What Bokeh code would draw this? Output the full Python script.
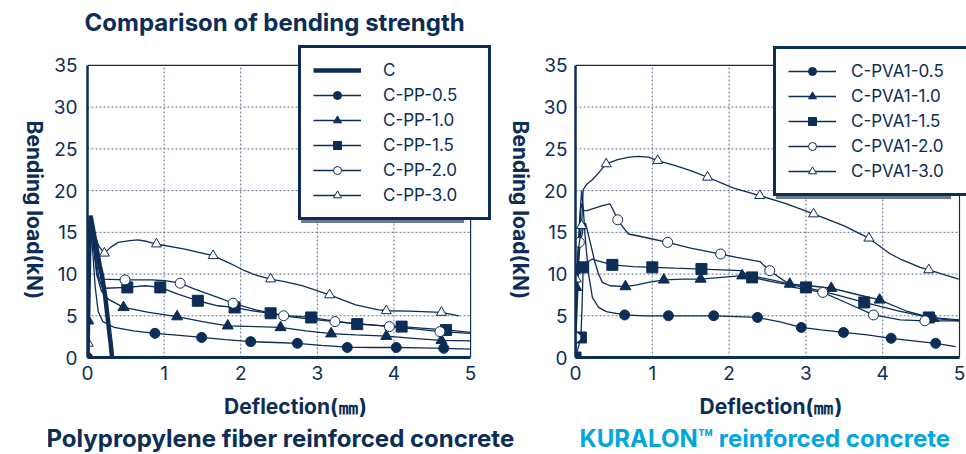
import math
from bokeh.plotting import figure
from bokeh.layouts import row
from bokeh.models import Legend, LegendItem, FixedTicker, Range1d, Title
from bokeh.embed import file_html
from bokeh.resources import INLINE

NAVY = "#0c2d56"
CYAN = "#00a6e2"
GRID = "#5c7090"
SHADOW = "#6b7a8f"
FONT = "Inter"

# ---------------- data ----------------
x_ticks = [0, 1, 2, 3, 4, 5]
y_ticks = [0, 5, 10, 15, 20, 25, 30, 35]

main_title = "Comparison of bending strength"
x_label = "Deflection(㎜)"
y_label = "Bending load(kN)"
left_subtitle = "Polypropylene fiber reinforced concrete"
right_subtitle = "KURALON™ reinforced concrete"

# Polypropylene fiber reinforced concrete
c_x = [0, 0.01, 0.02, 0.04, 0.08, 0.12, 0.16, 0.19, 0.23, 0.26, 0.285, 0.305, 0.315, 0.32]
c_y = [0, 6, 12, 17.0, 15.0, 13.0, 11.0, 9.8, 7.4, 5.0, 3.0, 1.5, 0.5, 0]

pp05_x = [0, 0.01, 0.02, 0.04, 0.07, 0.1, 0.14, 0.2, 0.35, 0.6, 0.88, 1.2, 1.49, 1.8, 2.13, 2.45, 2.74, 3.05, 3.39, 3.7, 4.03, 4.35, 4.65, 5.0]
pp05_y = [0, 5, 11, 16.0, 12.5, 8.5, 5.5, 4.3, 3.6, 3.2, 2.9, 2.65, 2.4, 2.15, 1.9, 1.8, 1.7, 1.45, 1.25, 1.2, 1.2, 1.15, 1.1, 1.0]
pp05_mx = [0, 0.88, 1.49, 2.13, 2.74, 3.39, 4.03, 4.65]
pp05_my = [0, 2.9, 2.4, 1.9, 1.7, 1.2, 1.2, 1.1]

pp10_x = [0, 0.01, 0.02, 0.03, 0.05, 0.08, 0.12, 0.18, 0.27, 0.47, 0.8, 1.17, 1.5, 1.83, 2.2, 2.52, 2.85, 3.18, 3.5, 3.9, 4.25, 4.62, 5.0]
pp10_y = [0, 4.4, 10, 15.5, 16, 13, 10, 8, 7.0, 6.0, 5.4, 4.9, 4.3, 3.8, 3.7, 3.6, 3.2, 2.85, 2.7, 2.55, 2.3, 2.05, 2.0]
pp10_mx = [0.01, 0.47, 1.17, 1.83, 2.52, 3.18, 3.9, 4.62]
pp10_my = [4.4, 6.0, 4.9, 3.8, 3.6, 2.85, 2.55, 2.05]

pp15_x = [0, 0.01, 0.02, 0.03, 0.06, 0.1, 0.15, 0.19, 0.23, 0.52, 0.75, 0.95, 1.18, 1.44, 1.7, 1.92, 2.15, 2.39, 2.65, 2.92, 3.2, 3.52, 3.8, 4.1, 4.4, 4.68, 5.0]
pp15_y = [0, 5, 11, 16, 15, 12.5, 9.5, 8.4, 8.3, 8.4, 8.6, 8.4, 7.6, 6.8, 6.2, 6.0, 5.6, 5.3, 5.0, 4.8, 4.4, 4.0, 3.85, 3.7, 3.5, 3.3, 3.0]
pp15_mx = [0.52, 0.95, 1.44, 1.92, 2.39, 2.92, 3.52, 4.1, 4.68]
pp15_my = [8.4, 8.4, 6.8, 6.0, 5.3, 4.8, 4.0, 3.7, 3.3]

pp20_x = [0, 0.01, 0.02, 0.04, 0.07, 0.1, 0.13, 0.2, 0.49, 0.84, 1.01, 1.21, 1.4, 1.7, 1.9, 2.2, 2.56, 2.9, 3.23, 3.6, 3.94, 4.3, 4.6, 5.0]
pp20_y = [0, 6, 12, 16.5, 15, 12, 9.6, 9.4, 9.3, 9.3, 9.2, 8.9, 8.2, 7.2, 6.5, 5.7, 5.0, 4.6, 4.3, 4.0, 3.7, 3.4, 3.1, 2.9]
pp20_mx = [0.49, 1.21, 1.9, 2.56, 3.23, 3.94, 4.6]
pp20_my = [9.3, 8.9, 6.5, 5.0, 4.3, 3.7, 3.1]

pp30_x = [0, 0.01, 0.02, 0.04, 0.07, 0.1, 0.15, 0.22, 0.3, 0.4, 0.55, 0.66, 0.78, 0.9, 1.27, 1.64, 1.88, 2.05, 2.22, 2.39, 2.57, 2.8, 3.16, 3.5, 3.8, 3.9, 4.2, 4.62, 4.85]
pp30_y = [0, 1.7, 8, 16, 15.5, 14.5, 13.3, 12.5, 13.2, 13.8, 14.0, 14.1, 13.9, 13.6, 13.0, 12.2, 11.2, 10.4, 9.8, 9.4, 9.1, 8.6, 7.5, 6.3, 5.7, 5.6, 5.55, 5.4, 5.0]
pp30_mx = [0.01, 0.22, 0.9, 1.64, 2.39, 3.16, 3.9, 4.62]
pp30_my = [1.7, 12.5, 13.6, 12.2, 9.4, 7.5, 5.6, 5.4]

# KURALON (PVA) reinforced concrete
pva05_x = [0, 0.01, 0.02, 0.05, 0.08, 0.1, 0.13, 0.17, 0.22, 0.3, 0.4, 0.64, 0.9, 1.21, 1.5, 1.8, 2.1, 2.37, 2.65, 2.94, 3.2, 3.49, 3.8, 4.11, 4.4, 4.69, 4.95]
pva05_y = [0, 5, 10.6, 16, 20, 18, 14, 10, 7.2, 6.0, 5.5, 5.1, 5.0, 5.0, 5.0, 5.0, 4.9, 4.8, 4.3, 3.6, 3.3, 3.0, 2.7, 2.3, 2.0, 1.7, 1.3]
pva05_mx = [0.02, 0.64, 1.21, 1.8, 2.37, 2.94, 3.49, 4.11, 4.69]
pva05_my = [10.6, 5.1, 5.0, 5.0, 4.8, 3.6, 3.0, 2.3, 1.7]

pva10_x = [0, 0.01, 0.03, 0.06, 0.1, 0.13, 0.16, 0.2, 0.25, 0.3, 0.35, 0.45, 0.65, 0.8, 0.95, 1.15, 1.4, 1.63, 1.9, 2.17, 2.4, 2.6, 2.79, 3.05, 3.33, 3.6, 3.96, 4.3, 4.66, 5.0]
pva10_y = [0, 8.4, 11, 13.5, 15.5, 16.1, 15.0, 13.5, 11.5, 10.0, 9.0, 8.6, 8.5, 8.7, 9.0, 9.3, 9.4, 9.4, 9.6, 9.8, 9.6, 9.2, 8.8, 8.6, 8.3, 7.7, 6.9, 5.6, 4.7, 4.4]
pva10_mx = [0.01, 0.65, 1.15, 1.63, 2.17, 2.79, 3.33, 3.96, 4.66]
pva10_my = [8.4, 8.5, 9.3, 9.4, 9.8, 8.8, 8.3, 6.9, 4.7]

pva15_x = [0, 0.03, 0.07, 0.085, 0.1, 0.15, 0.22, 0.28, 0.48, 0.75, 1.0, 1.3, 1.64, 1.9, 2.15, 2.3, 2.6, 3.0, 3.4, 3.76, 4.2, 4.6, 5.0]
pva15_y = [0, 1, 2.4, 6, 10.8, 11.4, 11.8, 11.6, 11.1, 10.9, 10.8, 10.7, 10.6, 10.5, 10.4, 9.6, 9.0, 8.4, 7.5, 6.6, 5.6, 4.8, 4.5]
pva15_mx = [0, 0.07, 0.1, 0.48, 1.0, 1.64, 2.3, 3.0, 3.76, 4.6]
pva15_my = [0, 2.4, 10.8, 11.1, 10.8, 10.6, 9.6, 8.4, 6.6, 4.8]

pva20_x = [0, 0.005, 0.03, 0.05, 0.07, 0.1, 0.15, 0.25, 0.35, 0.45, 0.5, 0.55, 0.62, 0.69, 0.85, 1.0, 1.2, 1.5, 1.89, 2.1, 2.4, 2.53, 2.84, 3.22, 3.54, 3.88, 4.23, 4.55, 5.0]
pva20_y = [0, 2.4, 8, 13.8, 18.5, 17.6, 17.6, 17.9, 18.2, 18.4, 17.5, 16.5, 15.6, 14.8, 14.5, 14.2, 13.8, 13.1, 12.4, 12.0, 11.5, 10.4, 8.4, 7.8, 6.5, 5.1, 4.5, 4.4, 4.4]
pva20_mx = [0.005, 0.05, 0.55, 1.2, 1.89, 2.53, 3.22, 3.88, 4.55]
pva20_my = [2.4, 13.8, 16.5, 13.8, 12.4, 10.4, 7.8, 5.1, 4.4]

pva30_x = [0, 0.01, 0.04, 0.08, 0.1, 0.15, 0.22, 0.29, 0.4, 0.55, 0.7, 0.82, 0.95, 1.07, 1.3, 1.5, 1.72, 2.06, 2.4, 2.75, 3.1, 3.49, 3.82, 4.1, 4.23, 4.49, 4.6, 4.84, 4.99]
pva30_y = [0, 9.4, 13, 15.8, 20.1, 20.8, 21.3, 22.0, 23.2, 23.7, 24.0, 24.1, 24.0, 23.6, 23.0, 22.4, 21.6, 20.3, 19.4, 18.4, 17.2, 15.8, 14.3, 12.4, 11.8, 10.8, 10.5, 9.8, 9.4]
pva30_mx = [0.01, 0.08, 0.4, 1.07, 1.72, 2.4, 3.1, 3.82, 4.6]
pva30_my = [9.4, 15.8, 23.2, 23.6, 21.6, 19.4, 17.2, 14.3, 10.5]

pp_names = ["C-PP-0.5", "C-PP-1.0", "C-PP-1.5", "C-PP-2.0", "C-PP-3.0"]
pva_names = ["C-PVA1-0.5", "C-PVA1-1.0", "C-PVA1-1.5", "C-PVA1-2.0", "C-PVA1-3.0"]

# marker styles: (marker, filled, size)
STYLES = [("circle", True, 10), ("triangle", True, 11), ("square", True, 11),
          ("circle", False, 10), ("triangle", False, 10)]

H = 454
TOP = 41          # canvas px above the plot frame
BOTTOM = 97       # canvas px below the plot frame
PX_X = 76.8       # pixels per x unit (layout only)
PX_Y = 293 / 35.0
TOP_EXTRA = 23    # px of frame above y=35 so the legend fits inside the frame

LG_PAD = 12
LG_GLYPH_W = 48
LG_ROW_H = 20
LG_SPACING = 5


def ylabel_title(offset, standoff):
    # vertical label reading top-to-bottom, placed in a right-hand side panel
    return Title(text=y_label, align="left", offset=offset, standoff=standoff,
                 text_font=FONT, text_font_size="21px", text_font_style="bold",
                 text_color=NAVY)


def make_fig(width, border_left, border_right, extra_right, ytick_standoff, title=None):
    x_end = x_ticks[-1] + extra_right / PX_X
    y_end = y_ticks[-1] + TOP_EXTRA / PX_Y
    p = figure(width=width, height=H, x_range=Range1d(x_ticks[0], x_end),
               y_range=Range1d(y_ticks[0], y_end),
               output_backend="svg", toolbar_location=None,
               min_border_left=border_left, min_border_right=border_right,
               min_border_top=TOP, min_border_bottom=BOTTOM)
    p.background_fill_color = "white"
    p.border_fill_color = "white"
    p.outline_line_color = None
    p.grid.visible = False

    # dotted grid, limited to the data box
    vx = x_ticks[1:-1]
    hy = y_ticks[1:-1]
    p.segment(x0=vx, y0=[y_ticks[0]] * len(vx), x1=vx, y1=[y_ticks[-1]] * len(vx),
              line_color=GRID, line_dash="2 2", line_width=1, level="underlay")
    p.segment(x0=[x_ticks[0]] * len(hy), y0=hy, x1=[x_ticks[-1]] * len(hy), y1=hy,
              line_color=GRID, line_dash="2 2", line_width=1, level="underlay")
    # thin top / right border of the box
    p.line([x_ticks[0], x_ticks[-1], x_ticks[-1]], [y_ticks[-1], y_ticks[-1], y_ticks[0]],
           line_color=NAVY, line_width=1.2)

    p.xaxis.ticker = FixedTicker(ticks=x_ticks)
    p.yaxis.ticker = FixedTicker(ticks=y_ticks)
    p.xaxis.bounds = (x_ticks[0], x_ticks[-1])
    p.yaxis.bounds = (y_ticks[0], y_ticks[-1])
    for ax in (p.xaxis, p.yaxis):
        ax.major_tick_line_color = None
        ax.minor_tick_line_color = None
        ax.major_tick_in = 0
        ax.major_tick_out = 0
        ax.axis_line_color = NAVY
        ax.major_label_text_font = FONT
        ax.major_label_text_font_size = "19px"
        ax.major_label_text_color = NAVY
        ax.axis_label_text_font = FONT
        ax.axis_label_text_font_size = "21px"
        ax.axis_label_text_font_style = "bold"
        ax.axis_label_text_color = NAVY
    p.xaxis.axis_line_width = 3
    p.yaxis.axis_line_width = 2.5
    p.xaxis.major_label_standoff = 8
    p.yaxis.major_label_standoff = ytick_standoff
    p.xaxis.axis_label = x_label
    p.xaxis.axis_label_standoff = 11

    if title:
        p.title.text = title
        p.title.align = "left"
        p.title.offset = -3
        p.title.text_font = FONT
        p.title.text_font_size = "24px"
        p.title.text_font_style = "bold"
        p.title.text_color = NAVY
        p.title.standoff = 11
    return p


def add_series(p, xs, ys, mx, my, style):
    marker, filled, size = style
    ln = p.line(xs, ys, line_color=NAVY, line_width=1.3)
    sc = p.scatter(mx, my, marker=marker, size=size, line_color=NAVY, line_width=1,
                   fill_color=NAVY if filled else "white")
    return [ln, sc]


def base_legend(items, location, standoff, label_width):
    lg = Legend(items=items, location=location)
    lg.border_line_width = 3
    lg.border_line_alpha = 1
    lg.background_fill_alpha = 1
    lg.label_text_font = FONT
    lg.label_text_font_size = "17px"
    lg.label_text_color = NAVY
    lg.glyph_width = LG_GLYPH_W
    lg.glyph_height = LG_ROW_H
    lg.label_height = LG_ROW_H
    lg.spacing = LG_SPACING
    lg.padding = LG_PAD
    lg.margin = 0
    lg.label_standoff = standoff
    lg.label_width = label_width
    return lg


def add_legend(p, items, location, standoff, label_width):
    x, y = location
    n = len(items)
    # drop shadow: one empty box of the same size, offset 3px right/down
    box_h = n * LG_ROW_H + (n - 1) * LG_SPACING
    shadow = base_legend([LegendItem(label="", renderers=[])], (x + 3, y - 3), standoff, label_width)
    shadow.glyph_height = box_h
    shadow.label_height = box_h
    shadow.border_line_color = None
    shadow.background_fill_color = SHADOW
    p.add_layout(shadow)
    lg = base_legend(items, (x, y), standoff, label_width)
    lg.border_line_color = NAVY
    lg.background_fill_color = "white"
    p.add_layout(lg)


# ---------------- narrow strip holding the left y label ----------------
p0 = figure(width=48, height=H, output_backend="svg", toolbar_location=None,
            x_axis_location=None, y_axis_location=None,
            min_border_left=0, min_border_right=27, min_border_top=TOP, min_border_bottom=BOTTOM)
p0.outline_line_color = None
p0.grid.visible = False
p0.background_fill_color = "white"
p0.border_fill_color = "white"
p0.add_layout(ylabel_title(78, 0), "right")

# ---------------- left chart ----------------
p1 = make_fig(491, 39, 35, 33, 10, title=main_title)
pp_data = [(pp05_x, pp05_y, pp05_mx, pp05_my), (pp10_x, pp10_y, pp10_mx, pp10_my),
           (pp15_x, pp15_y, pp15_mx, pp15_my), (pp20_x, pp20_y, pp20_mx, pp20_my),
           (pp30_x, pp30_y, pp30_mx, pp30_my)]
pp_rends = [add_series(p1, *d, s) for d, s in zip(pp_data, STYLES)]
c_line = p1.line(c_x, c_y, line_color=NAVY, line_width=4.5)
items1 = [LegendItem(label="C", renderers=[c_line])]
items1 += [LegendItem(label=name, renderers=r) for name, r in zip(pp_names, pp_rends)]
add_legend(p1, items1, (211, 137), 22, 93)
p1.add_layout(Title(text=left_subtitle, align="left", offset=-41, standoff=0, text_font=FONT,
                    text_font_size="24px", text_font_style="bold", text_color=NAVY), "below")
# y label of the right chart lives in the right panel of the left chart
p1.add_layout(ylabel_title(78, 9), "right")

# ---------------- right chart ----------------
p2 = make_fig(427, 36, 0, 7, 8)
pva_data = [(pva05_x, pva05_y, pva05_mx, pva05_my), (pva10_x, pva10_y, pva10_mx, pva10_my),
            (pva15_x, pva15_y, pva15_mx, pva15_my), (pva20_x, pva20_y, pva20_mx, pva20_my),
            (pva30_x, pva30_y, pva30_mx, pva30_my)]
pva_rends = [add_series(p2, *d, s) for d, s in zip(pva_data, STYLES)]
items2 = [LegendItem(label=n, renderers=r) for n, r in zip(pva_names, pva_rends)]
add_legend(p2, items2, (198, 161), 15, 112)
p2.add_layout(Title(text=right_subtitle, align="left", offset=4, standoff=0, text_font=FONT,
                    text_font_size="24px", text_font_style="bold", text_color=CYAN), "below")

layout = row(p0, p1, p2)
open("out.html", "w").write(file_html(layout, INLINE))
